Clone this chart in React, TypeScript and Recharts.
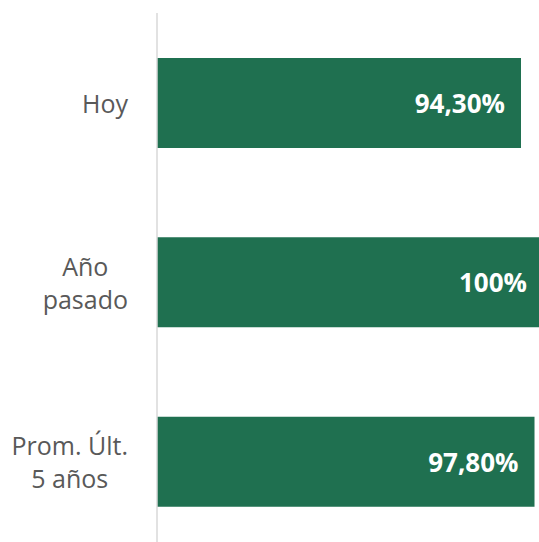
import React from "react";
import { BarChart, Bar, XAxis, YAxis, LabelList } from "recharts";

const categories = ["Hoy", "Año\npasado", "Prom. Últ.\n5 años"];
const values = [94.3, 100, 97.8];
const valueLabels = ["94,30%", "100%", "97,80%"];

const data = categories.map((c, i) => ({ name: c, value: values[i], label: valueLabels[i] }));

const FONT = "'Open Sans', sans-serif";
const CAT_SIZE = 25;
const VAL_SIZE = 26;

let ctx: CanvasRenderingContext2D | null = null;
function measure(text: string): number {
  if (!ctx) {
    const c = document.createElement("canvas");
    ctx = c.getContext("2d");
  }
  if (!ctx) return text.length * CAT_SIZE * 0.55;
  ctx.font = `${CAT_SIZE}px 'Open Sans'`;
  return ctx.measureText(text).width;
}

const CategoryTick = (props: any) => {
  const { y, payload } = props;
  const lines: string[] = String(payload.value).split("\n");
  const rightEdge = 128;
  const maxW = Math.max(...lines.map(measure));
  const cx = rightEdge - maxW / 2;
  const lh = 33;
  const startY = y - ((lines.length - 1) * lh) / 2;
  return (
    <text
      x={cx}
      y={startY}
      textAnchor="middle"
      fill="#595959"
      fontFamily={FONT}
      fontSize={CAT_SIZE}
    >
      {lines.map((l, i) => (
        <tspan key={i} x={cx} y={startY + i * lh} dominantBaseline="central">
          {l}
        </tspan>
      ))}
    </text>
  );
};

const ValueLabel = (props: any) => {
  const { x, y, width, height, value } = props;
  return (
    <text
      x={x + width - 16}
      y={y + height / 2}
      textAnchor="end"
      dominantBaseline="central"
      fill="#FFFFFF"
      fontFamily={FONT}
      fontSize={VAL_SIZE}
      fontWeight="bold"
    >
      {value}
    </text>
  );
};

export default function App() {
  return (
    <div
      style={{
        position: "absolute",
        left: 0,
        top: 0,
        width: 539,
        height: 542,
        overflow: "hidden",
        background: "#FFFFFF",
      }}
    >
      <BarChart
        width={560}
        height={560}
        data={data}
        layout="vertical"
        margin={{ top: 13, right: 17, bottom: 9, left: 0 }}
      >
        <XAxis type="number" domain={[0, 100]} hide />
        <YAxis
          type="category"
          dataKey="name"
          width={157}
          tickLine={false}
          axisLine={{ stroke: "#D9D9D9", strokeWidth: 1.5 }}
          tick={<CategoryTick />}
          interval={0}
        />
        <Bar dataKey="value" fill="#1F7050" barSize={90} isAnimationActive={false}>
          <LabelList dataKey="label" content={<ValueLabel />} />
        </Bar>
      </BarChart>
    </div>
  );
}
